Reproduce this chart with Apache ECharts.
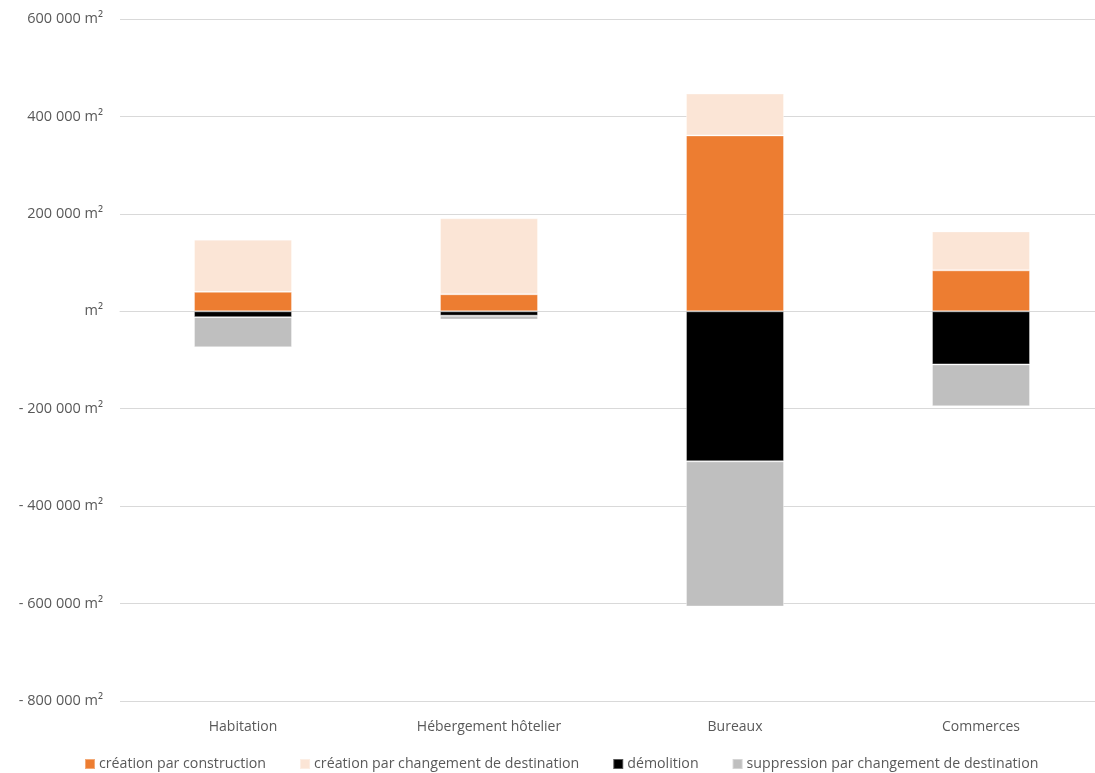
<!DOCTYPE html>
<html>
<head>
<meta charset="utf-8">
<script src="https://cdn.jsdelivr.net/npm/echarts@6/dist/echarts.min.js"></script>
<style>
  html, body { margin: 0; padding: 0; background: #fff; }
  #chart { width: 1095px; height: 773px; }
</style>
</head>
<body>
<div id="chart"></div>
<script>
// Categories of floor area use
const categories = ['Habitation', 'Hébergement hôtelier', 'Bureaux', 'Commerces'];

// Surfaces (m²) per category
const creationConstruction = [40000, 35000, 361000, 84000];
const creationChangement = [107000, 156000, 86000, 80000];
const demolition = [-12000, -9000, -308000, -109000];
const suppressionChangement = [-62000, -8000, -298000, -86000];

const seriesNames = [
  'création par construction',
  'création par changement de destination',
  'démolition',
  'suppression par changement de destination'
];
const seriesColors = ['#ED7D31', '#FBE5D6', '#000000', '#BFBFBF'];

// Format "# ### m²" with spaces as thousands separators; zero shows only the unit
function fmtM2(v) {
  if (v === 0) return 'm²';
  const abs = Math.abs(v).toString().replace(/\B(?=(\d{3})+(?!\d))/g, ' ');
  return (v < 0 ? '- ' : '') + abs + ' m²';
}

const chart = echarts.init(document.getElementById('chart'));
const textColor = '#595959';
const font = '"Open Sans", "Noto Sans", sans-serif';

const data = [creationConstruction, creationChangement, demolition, suppressionChangement];

chart.setOption({
  animation: false,
  textStyle: { fontFamily: font },
  grid: {
    left: 120, width: 984, top: 19, height: 682,
    containLabel: false, outerBoundsMode: 'none'
  },
  legend: {
    left: 84,
    top: 757,
    padding: 0,
    icon: 'rect',
    itemWidth: 10,
    itemHeight: 10,
    itemGap: 33,
    textStyle: { color: textColor, fontSize: 14.2, fontFamily: font, padding: [0, 0, 0, -1] },
    data: seriesNames
  },
  xAxis: {
    type: 'category',
    data: categories,
    axisLine: { show: true, onZero: true, lineStyle: { color: '#d9d9d9' } },
    axisTick: { show: false },
    axisLabel: {
      color: textColor, fontSize: 14, fontFamily: font,
      interval: 0, margin: 19
    },
    position: 'bottom'
  },
  yAxis: {
    type: 'value',
    min: -800000,
    max: 600000,
    interval: 200000,
    axisLine: { show: false },
    axisTick: { show: false },
    splitLine: { lineStyle: { color: '#d9d9d9', width: 1 } },
    axisLabel: {
      color: textColor, fontSize: 14.5, fontFamily: font, margin: 17,
      formatter: fmtM2
    }
  },
  series: seriesNames.map((name, i) => ({
    name: name,
    type: 'bar',
    stack: 'total',
    barWidth: 98,
    data: data[i],
    itemStyle: {
      color: seriesColors[i],
      borderColor: 'rgba(255,255,255,0.35)',
      borderWidth: 1
    }
  }))
});
</script>
</body>
</html>
